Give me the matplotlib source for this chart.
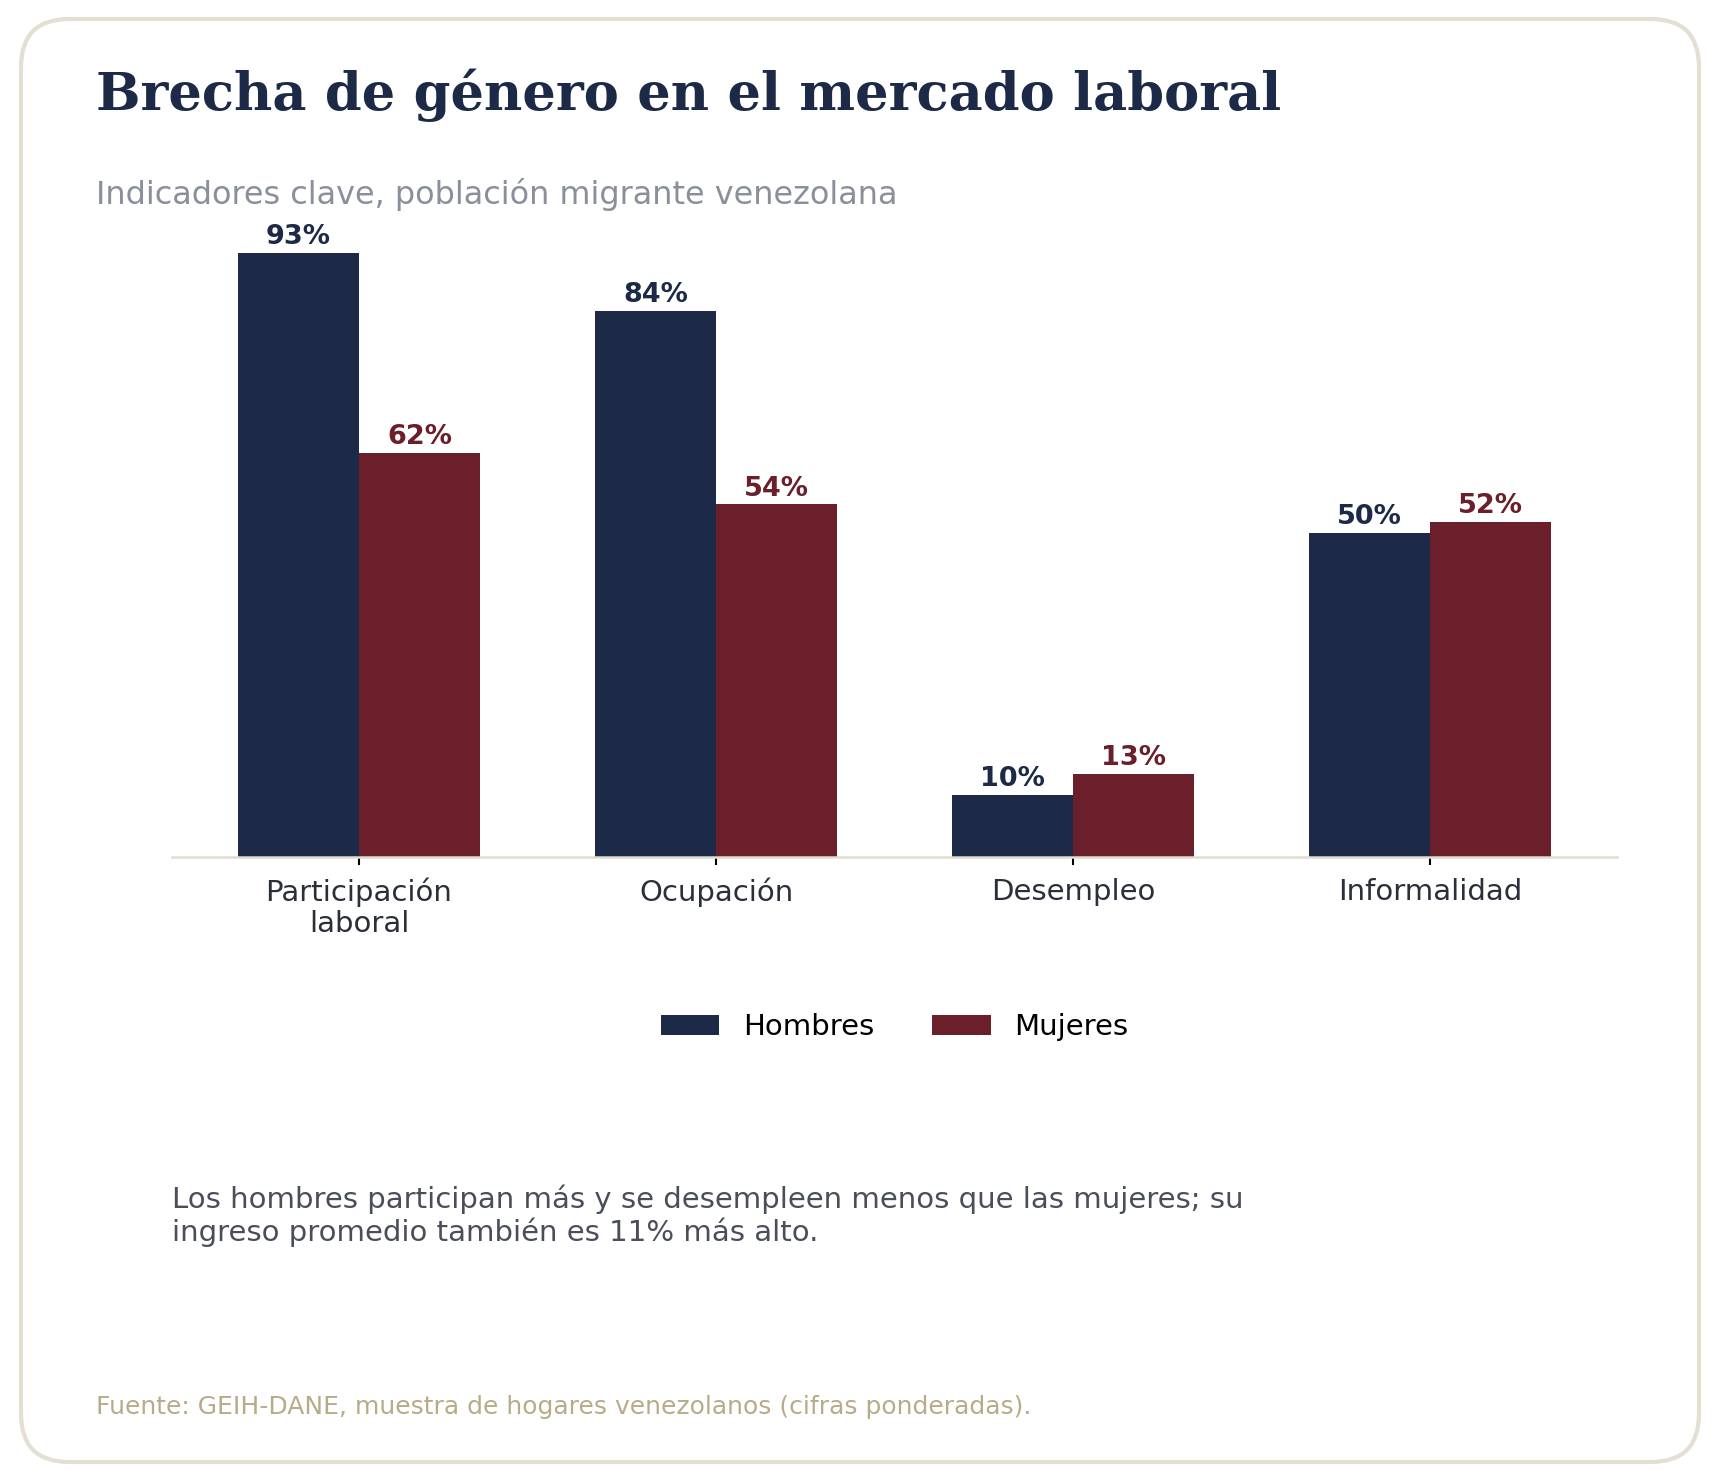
import numpy as np
import matplotlib
matplotlib.use("Agg")
import matplotlib.pyplot as plt
from matplotlib.patches import FancyBboxPatch

# data
categorias = ["Participación\nlaboral", "Ocupación", "Desempleo", "Informalidad"]
hombres = [93.0, 84.0, 9.6, 49.9]
mujeres = [62.2, 54.3, 12.8, 51.6]
series_labels = ["Hombres", "Mujeres"]

navy = "#1c2a47"
maroon = "#6b1f2b"

W, H, DPI = 1720, 1480, 150
fig = plt.figure(figsize=(W / DPI, H / DPI), dpi=DPI)
fig.patch.set_facecolor("white")

# rounded card border
card = FancyBboxPatch((21 / W, 18 / H), (1699 - 21) / W, (1461 - 18) / H,
                      boxstyle="round,pad=0,rounding_size=0.028",
                      transform=fig.transFigure, facecolor="white",
                      edgecolor="#e3dfd3", linewidth=2.0, zorder=-1,
                      mutation_aspect=W / H)
fig.patches.append(card)

ax = fig.add_axes([172 / W, 1 - 857 / H, (1617 - 172) / W, (857 - 207) / H])
x = np.arange(len(categorias))
w = 0.34
b1 = ax.bar(x - w / 2, hombres, w, color=navy, label=series_labels[0])
b2 = ax.bar(x + w / 2, mujeres, w, color=maroon, label=series_labels[1])

for bars, vals, col in [(b1, hombres, navy), (b2, mujeres, maroon)]:
    for rect, v in zip(bars, vals):
        ax.annotate(f"{v:.0f}%", (rect.get_x() + rect.get_width() / 2, v),
                    xytext=(0, 1.2), textcoords="offset points",
                    ha="center", va="bottom", fontsize=13,
                    fontweight="bold", color=col)

ax.set_ylim(0, 100)
ax.set_xticks(x)
ax.set_xticklabels(categorias, fontsize=14, color="#2a2f3a", linespacing=1.1)
ax.set_yticks([])
for s in ["top", "right", "left"]:
    ax.spines[s].set_visible(False)
ax.spines["bottom"].set_color("#e0dccf")
ax.spines["bottom"].set_linewidth(1.2)
ax.tick_params(axis="x", length=4, width=1, color="black", pad=6)

leg = ax.legend(loc="center", bbox_to_anchor=(0.5, (1027 - 857) / -(857 - 207)),
                ncol=2, frameon=False, fontsize=14)

fig.text(96 / W, 1 - 110 / H, "Brecha de género en el mercado laboral",
         fontsize=25.3, fontweight="bold", family="DejaVu Serif", color=navy,
         va="baseline", ha="left")
fig.text(96 / W, 1 - 204 / H, "Indicadores clave, población migrante venezolana",
         fontsize=15.3, color="#8a8f9c", va="baseline", ha="left")
fig.text(172 / W, 1 - 1216 / H,
         "Los hombres participan más y se desempleen menos que las mujeres; su\n"
         "ingreso promedio también es 11% más alto.",
         fontsize=14, color="#4a4e5a", va="center", ha="left", linespacing=1.15)
fig.text(96 / W, 1 - 1407 / H,
         "Fuente: GEIH-DANE, muestra de hogares venezolanos (cifras ponderadas).",
         fontsize=12, color="#b8ab88", va="center", ha="left")

fig.savefig("out.png", dpi=DPI, facecolor="white")
